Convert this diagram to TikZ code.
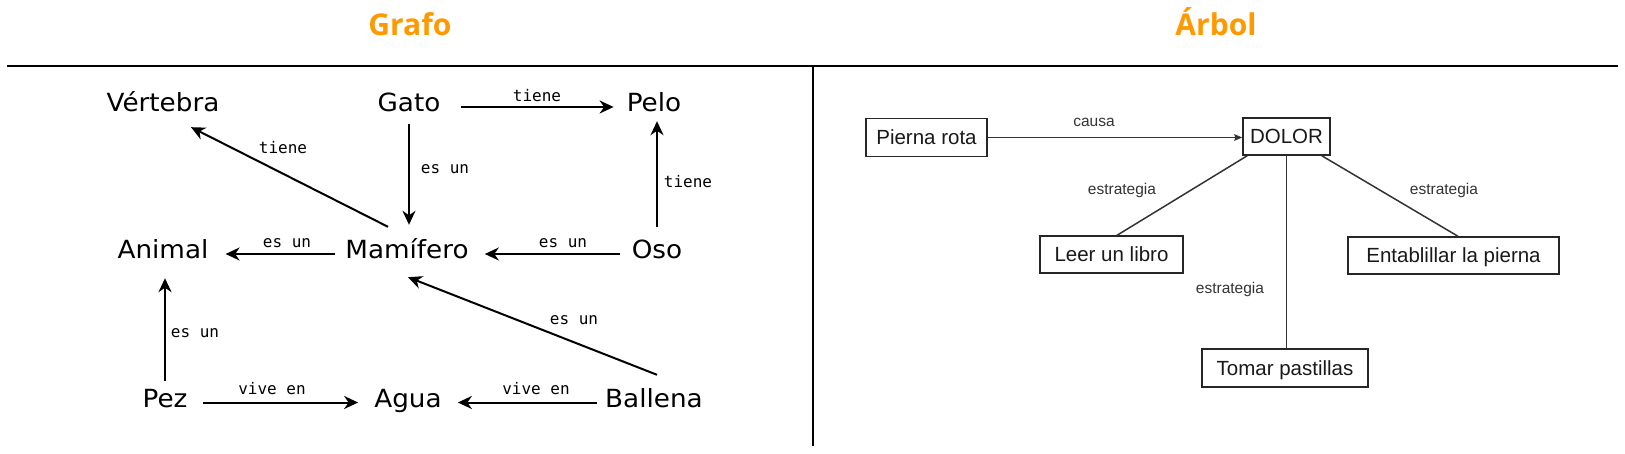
\documentclass[tikz,border=0pt]{standalone}
\usepackage{fontspec}
\setmainfont{DejaVu Sans}
\newfontfamily\gfont[FakeStretch=1.05]{DejaVu Sans}
\newfontfamily\mfont{DejaVu Sans Mono}
\newfontfamily\hfont{Liberation Sans}
\newfontfamily\tfont{Open Sans}
\usetikzlibrary{arrows.meta,calc}
\definecolor{orng}{HTML}{FF9900}
\begin{document}
\begin{tikzpicture}[x=1pt,y=-1pt,
  gnode/.style={font=\gfont\fontsize{25}{29}\selectfont, inner sep=0pt, text height=18pt, text depth=8pt},
  lbl/.style={font=\mfont\fontsize{16}{18}\selectfont, inner sep=0pt},
  arr/.style={line width=2pt, -{Stealth[length=14pt,width=13pt,inset=4.5pt]}},
  ttl/.style={font=\tfont\bfseries\fontsize{30}{32}\selectfont, text=orng, inner sep=0pt, anchor=base},
  box/.style={draw=black!85, line width=1.4pt, font=\hfont\fontsize{20.5}{24}\selectfont, text=black!90, inner sep=0pt, minimum height=37pt, text height=14.7pt, text depth=0pt},
  rl/.style={font=\hfont\fontsize{15.5}{18}\selectfont, text=black!80, inner sep=0pt},
  tline/.style={draw=black!80, line width=1.5pt}
]
\useasboundingbox (0,0) rectangle (1625,454);
% titles and frame
\node[ttl] (tgrafo) at (410,36) {Grafo};
\node[ttl] (tarbol) at (1216,36) {Árbol};
\coordinate (hl) at (7,66);
\coordinate (hr) at (1618,66);
\coordinate (vt) at (813,66);
\coordinate (vb) at (813,446);
\draw[line width=2.5pt] (hl) -- (hr);
\draw[line width=2pt] (vt) -- (vb);

% left graph nodes
\node[gnode] (vert) at (163,107) {Vértebra};
\node[gnode] (gato) at (409,107) {Gato};
\node[gnode] (pelo) at (654,107) {Pelo};
\node[gnode] (animal) at (163,254) {Animal};
\node[gnode] (mam) at (407,254) {Mamífero};
\node[gnode] (oso) at (657,254) {Oso};
\node[gnode] (pez) at (165,402.5) {Pez};
\node[gnode] (agua) at (408,402.5) {Agua};
\node[gnode] (ballena) at (654,402.5) {Ballena};

% left edges
\draw[arr, shorten <=20pt, shorten >=13pt] (gato.east) -- (pelo.west);
\draw[arr, shorten <=4pt, shorten >=16pt] (gato.south) -- (gato.south |- mam.north);
\draw[arr] ($(mam.north)+(-19,-14)$) -- ($(vert.south)+(28,7)$);
\draw[arr, shorten <=14pt, shorten >=1pt] (oso.north) -- (oso.north |- pelo.south);
\draw[arr, shorten <=12pt, shorten >=16pt] (oso.west) -- (mam.east);
\draw[arr, shorten <=10pt, shorten >=17pt] (mam.west) -- (animal.east);
\draw[arr, shorten <=8.5pt, shorten >=11pt] (pez.north) -- (pez.north |- animal.south);
\draw[arr] ($(ballena.north)+(3,-14.5)$) -- ($(mam.south)+(1,10)$);
\draw[arr, shorten <=15pt, shorten >=16pt] (pez.east) -- (agua.west);
\draw[arr, shorten <=8pt, shorten >=16pt] (ballena.west) -- (agua.east);

% left labels
\node[lbl] (l1) at (537,96) {tiene};
\node[lbl] (l2) at (445,169) {es un};
\node[lbl] (l3) at (283,148) {tiene};
\node[lbl] (l4) at (688,182) {tiene};
\node[lbl] (l5) at (563,243) {es un};
\node[lbl] (l6) at (287,243) {es un};
\node[lbl] (l7) at (195,333) {es un};
\node[lbl] (l8) at (574,320) {es un};
\node[lbl] (l9) at (272,389) {vive en};
\node[lbl] (l10) at (536,389) {vive en};

% right tree
\node[box, minimum width=121pt, minimum height=38pt] (pierna) at (926.5,137.5) {Pierna rota};
\node[box, minimum width=87pt] (dolor) at (1286.5,136.5) {DOLOR};
\node[box, minimum width=143pt] (leer) at (1111.5,254.5) {Leer un libro};
\node[box, minimum width=211pt] (entab) at (1453.5,255.5) {Entablillar la pierna};
\node[box, minimum width=166pt, minimum height=38pt] (tomar) at (1285,368) {Tomar pastillas};

\draw[tline, -{Stealth[length=8pt,width=6.5pt,inset=1pt]}] (pierna.east) -- (pierna.east -| dolor.west);
\draw[tline] ($(dolor.south west)+(5,0)$) -- ($(leer.north)+(5.5,0)$);
\draw[tline] (dolor.south) -- (dolor.south |- tomar.north);
\draw[tline] ($(dolor.south east)+(-9,0)$) -- ($(entab.north)+(4.5,0)$);

\node[rl] (rcausa) at (1094,122) {causa};
\node[rl] (re1) at (1122,190) {estrategia};
\node[rl] (re2) at (1444,190) {estrategia};
\node[rl] (re3) at (1230,289) {estrategia};
\end{tikzpicture}
\end{document}
